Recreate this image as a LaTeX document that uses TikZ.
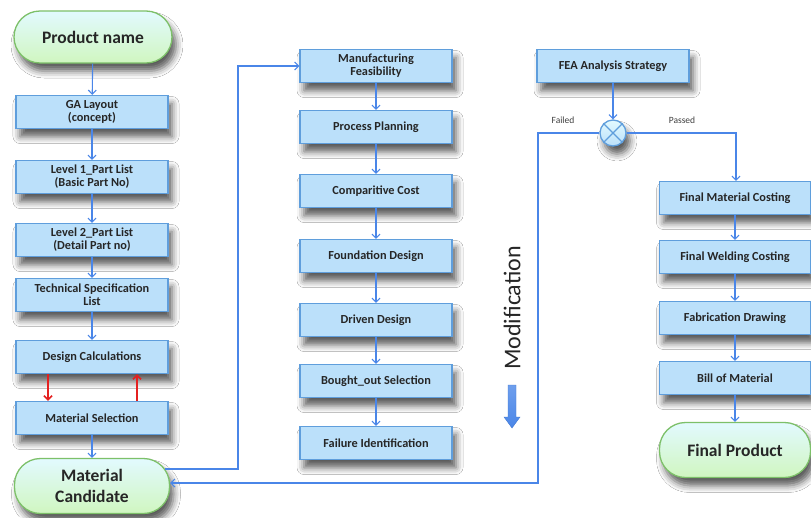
\documentclass[tikz,border=0pt]{standalone}
\usepackage{fontspec}
\setmainfont{Carlito}
\usetikzlibrary{arrows.meta,shadows.blur,calc}
\definecolor{boxfill}{RGB}{187,224,250}
\definecolor{boxline}{RGB}{95,158,220}
\definecolor{arrblue}{RGB}{74,134,232}
\definecolor{stadline}{RGB}{125,192,105}
\definecolor{stadtop}{RGB}{226,250,255}
\definecolor{stadbot}{RGB}{208,246,192}
\definecolor{redarr}{RGB}{228,32,32}
\begin{document}
\begin{tikzpicture}[x=1pt,y=-1pt,
  shadowed/.style={blur shadow={shadow xshift=4pt,shadow yshift=-8pt,shadow blur radius=7pt,shadow opacity=65}},
  stepbox/.style={draw=boxline,line width=1.3pt,fill=boxfill,minimum width=152pt,minimum height=33pt,
     align=center,font=\fontsize{12.3}{13.2}\selectfont\bfseries,text=black!85,inner sep=1pt,shadowed},
  stadium/.style={draw=stadline,line width=1.3pt,top color=stadtop,bottom color=stadbot,
     rounded corners=26pt,align=center,text=black!85,font=\fontsize{17.5}{21}\selectfont\bfseries,shadowed},
  arr/.style={draw=arrblue,line width=1.1pt,-{Straight Barb[length=4pt,width=8pt]}},
  redarrow/.style={draw=redarr,line width=1.6pt,-{Straight Barb[length=4pt,width=8pt]}},
  lbl/.style={font=\fontsize{9.5}{11}\selectfont,text=black!75}]
\useasboundingbox (0,0) rectangle (811,517);
\fill[white] (0,0) rectangle (811,517);

% left column
\node[stadium,minimum width=158pt,minimum height=52pt] (pn) at (93,37) {Product name};
\node[stepbox] (ga) at (92,112) {GA Layout\\(concept)};
\node[stepbox] (l1) at (92,177) {Level 1\_Part List\\(Basic Part No)};
\node[stepbox] (l2) at (92,240) {Level 2\_Part List\\(Detail Part no)};
\node[stepbox] (ts) at (92,295) {Technical Specification\\List};
\node[stepbox] (dc) at (92,357) {Design Calculations};
\node[stepbox] (ms) at (92,418) {Material Selection};
\node[stadium,minimum width=155pt,minimum height=55pt] (mc) at (92,486) {Material\\Candidate};

% middle column
\node[stepbox] (mf) at (376,66) {Manufacturing\\Feasibility};
\node[stepbox] (pp) at (376,127) {Process Planning};
\node[stepbox] (cc) at (376,191) {Comparitive Cost};
\node[stepbox] (fd) at (376,256) {Foundation Design};
\node[stepbox] (dd) at (376,320) {Driven Design};
\node[stepbox] (bs) at (376,381) {Bought\_out Selection};
\node[stepbox] (fi) at (376,443) {Failure Identification};

% right column
\node[stepbox] (fea) at (613,66) {FEA Analysis Strategy};
\node[circle,draw=boxline,line width=1.3pt,top color=stadtop,bottom color=boxfill,minimum size=26pt,inner sep=0pt,shadowed] (xor) at (613,133) {};
\draw[boxline,line width=1.3pt] (xor.45) -- (xor.225) (xor.135) -- (xor.315);
\node[stepbox,minimum width=151pt] (fmc) at (735,198) {Final Material Costing};
\node[stepbox,minimum width=151pt] (fwc) at (735,257) {Final Welding Costing};
\node[stepbox,minimum width=151pt] (fab) at (735,318) {Fabrication Drawing};
\node[stepbox,minimum width=151pt] (bom) at (735,378) {Bill of Material};
\node[stadium,minimum width=151pt,minimum height=55pt] (fp) at (735,450) {Final Product};

% labels
\node[lbl] (failed) at (563,120) {Failed};
\node[lbl] (passed) at (682,120) {Passed};
\node[rotate=90,font=\fontsize{24}{28}\selectfont,text=black!85] (modif) at (512,308) {Modification};
\shade[top color=arrblue!80,bottom color=arrblue,draw=arrblue!90!black,line width=0.4pt]
  (508,385) -- (516,385) -- (516,417) -- (520,417) -- (512,428) -- (504,417) -- (508,417) -- cycle;

% connectors left
\draw[arr] (pn) -- (ga);
\draw[arr] (ga) -- (l1);
\draw[arr] (l1) -- (l2);
\draw[arr] (l2) -- (ts);
\draw[arr] (ts) -- (dc);
\draw[redarrow] ($(dc.south)+(-44,0)$) -- ($(ms.north)+(-44,0)$);
\draw[redarrow] ($(ms.north)+(45,0)$) -- ($(dc.south)+(45,0)$);
\draw[arr] (ms) -- (mc);

% connectors middle
\coordinate (mcout) at ($(mc.east)+(-5,-17)$);
\coordinate (c1) at (238,469);
\coordinate (c2) at (238,66);
\draw[arr] (mcout) -- (c1) -- (c2) -- (mf.west);
\draw[arr] (mf) -- (pp);
\draw[arr] (pp) -- (cc);
\draw[arr] (cc) -- (fd);
\draw[arr] (fd) -- (dd);
\draw[arr] (dd) -- (bs);
\draw[arr] (bs) -- (fi);

% connectors right
\draw[arr] (fea) -- (xor);
\coordinate (f1) at (538,133);
\coordinate (f2) at (538,483);
\draw[arr] (xor.west) -- (f1) -- (f2) -- ($(mc.east)+(0,-3)$);
\coordinate (p1) at (736,133);
\draw[arr] (xor.east) -- (p1) -- (p1 |- fmc.north);
\draw[arr] (fmc) -- (fwc);
\draw[arr] (fwc) -- (fab);
\draw[arr] (fab) -- (bom);
\draw[arr] (bom) -- (fp);
\end{tikzpicture}
\end{document}
